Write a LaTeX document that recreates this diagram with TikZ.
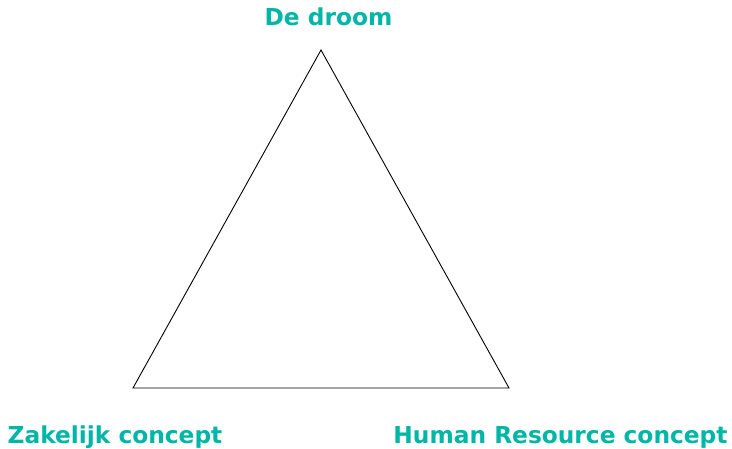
\documentclass[tikz,border=0pt]{standalone}
\usepackage{fontspec}
\setmainfont{DejaVu Sans}
\definecolor{teal}{RGB}{0,182,166}
\begin{document}
\begin{tikzpicture}[x=1pt,y=-1pt,
  lbl/.style={inner sep=0pt,anchor=base,text=teal,font=\fontsize{23.3}{28}\selectfont\bfseries}]
\useasboundingbox (0,0) rectangle (732,449);
\coordinate (top) at (321,50);
\coordinate (left) at (133,388);
\coordinate (right) at (509,388);
\draw[line width=0.9pt,line join=miter] (top) -- (right) -- (left) -- cycle;
\node[lbl] (droom) at (328.5,26) {De droom};
\node[lbl] (zak) at (115,443) {Zakelijk concept};
\node[lbl] (hr) at (560.5,443) {Human Resource concept};
\end{tikzpicture}
\end{document}
